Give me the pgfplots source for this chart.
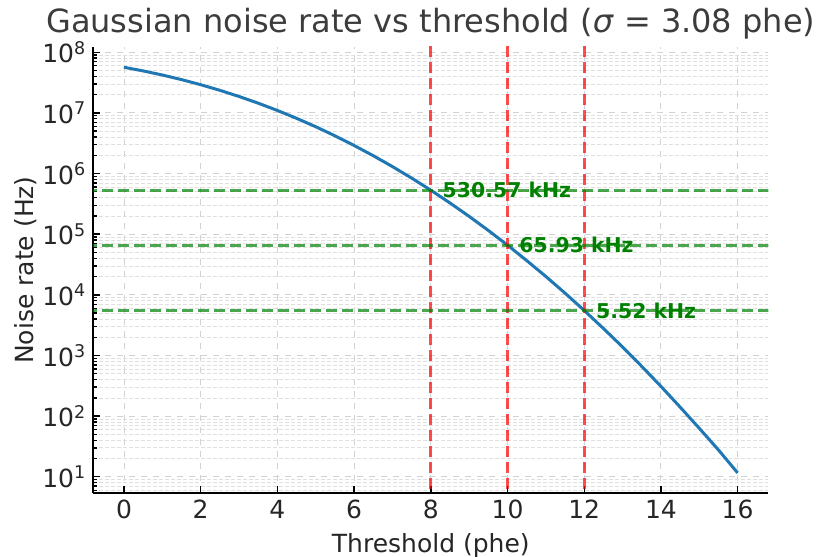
\documentclass[border=0pt]{standalone}
\usepackage{pgfplots}
\pgfplotsset{compat=1.18}
\usepackage{fontspec}
\setmainfont{DejaVu Sans}

\definecolor{mplblue}{HTML}{1F77B4}
\definecolor{txt}{HTML}{262626}
\definecolor{annot}{HTML}{008000}

\begin{document}
\begin{tikzpicture}
\useasboundingbox (-46.65pt,-31.85pt) rectangle (364.85pt,246.5pt);
\begin{axis}[
    scale only axis,
    width=337.5pt, height=223pt,
    ymode=log, log basis y=10,
    xmin=-0.8, xmax=16.8,
    ymin=5.4, ymax=1.22e8,
    axis lines*=left,
    axis line style={-, line width=1pt, black},
    tick align=inside,
    major tick length=3.5pt, minor tick length=2pt,
    every tick/.style={black, line width=0.7pt},
    xtick={0,2,...,16},
    ytick={10,100,1000,10000,100000,1000000,10000000,100000000},
    minor ytick={6,7,8,9,20,30,40,50,60,70,80,90,
        200,300,400,500,600,700,800,900,
        2000,3000,4000,5000,6000,7000,8000,9000,
        2e4,3e4,4e4,5e4,6e4,7e4,8e4,9e4,
        2e5,3e5,4e5,5e5,6e5,7e5,8e5,9e5,
        2e6,3e6,4e6,5e6,6e6,7e6,8e6,9e6,
        2e7,3e7,4e7,5e7,6e7,7e7,8e7,9e7},
    yticklabels={10\textsuperscript{1},10\textsuperscript{2},10\textsuperscript{3},10\textsuperscript{4},10\textsuperscript{5},10\textsuperscript{6},10\textsuperscript{7},10\textsuperscript{8}},
    /pgf/number format/assume math mode=true,
    tick label style={font=\fontsize{12.5}{14}\selectfont, text=txt},
    xmajorgrids, ymajorgrids, yminorgrids,
    major grid style={dashed, gray!35, line width=0.45pt},
    minor grid style={dash pattern=on 2pt off 1pt, gray!25, line width=0.35pt},
    every axis x label/.style={at={(axis description cs:0.5,-0.1345)}, anchor=base, font=\fontsize{12.5}{14}\selectfont, text=txt},
    every axis y label/.style={at={(axis description cs:-0.1007,0.5)}, rotate=90, anchor=center, font=\fontsize{12.5}{14}\selectfont, text=txt},
    title style={at={(axis description cs:0.5,1.005)}, anchor=base, font=\fontsize{16}{18}\selectfont, text=txt!90},
    xlabel={Threshold (phe)},
    ylabel={Noise rate (Hz)},
    title={Gaussian noise rate vs threshold (\textit{σ} = 3.08 phe)},
    clip=true,
]
% noise rate curve
\addplot[mplblue, line width=1.5pt, no marks] coordinates {
(0,5.649e7) (0.5,4.920e7) (1,4.211e7) (1.5,3.537e7) (2,2.915e7)
(2.5,2.356e7) (3,1.864e7) (3.5,1.445e7) (4,1.096e7) (4.5,8.13e6)
(5,5.91e6) (5.5,4.19e6) (6,2.90e6) (6.5,1.968e6) (7,1.301e6)
(7.5,8.41e5) (8,5.306e5) (8.5,3.27e5) (9,1.964e5) (9.5,1.152e5)
(10,6.593e4) (10.5,3.67e4) (11,2.006e4) (11.5,1.066e4) (12,5.52e3)
(12.5,2.79e3) (13,1.38e3) (13.5,661) (14,310) (14.5,141)
(15,63) (15.5,27.7) (16,11.6)
};
% threshold markers
\addplot[red, opacity=0.7, line width=1.5pt, dash pattern=on 5.5pt off 2.5pt, no marks] coordinates {(8,1) (8,1e9)};
\addplot[red, opacity=0.7, line width=1.5pt, dash pattern=on 5.5pt off 2.5pt, no marks] coordinates {(10,1) (10,1e9)};
\addplot[red, opacity=0.7, line width=1.5pt, dash pattern=on 5.5pt off 2.5pt, no marks] coordinates {(12,1) (12,1e9)};
\addplot[annot, opacity=0.7, line width=1.5pt, dash pattern=on 5.5pt off 2.5pt, no marks] coordinates {(-1,530570) (17,530570)};
\addplot[annot, opacity=0.7, line width=1.5pt, dash pattern=on 5.5pt off 2.5pt, no marks] coordinates {(-1,65930) (17,65930)};
\addplot[annot, opacity=0.7, line width=1.5pt, dash pattern=on 5.5pt off 2.5pt, no marks] coordinates {(-1,5520) (17,5520)};
\node[anchor=west, inner sep=0pt, text=annot, font=\bfseries\fontsize{10.2}{12}\selectfont] at (axis cs:8.3,530570) {530.57 kHz};
\node[anchor=west, inner sep=0pt, text=annot, font=\bfseries\fontsize{10.2}{12}\selectfont] at (axis cs:10.3,65930) {65.93 kHz};
\node[anchor=west, inner sep=0pt, text=annot, font=\bfseries\fontsize{10.2}{12}\selectfont] at (axis cs:12.3,5520) {5.52 kHz};
\end{axis}
\end{tikzpicture}
\end{document}
